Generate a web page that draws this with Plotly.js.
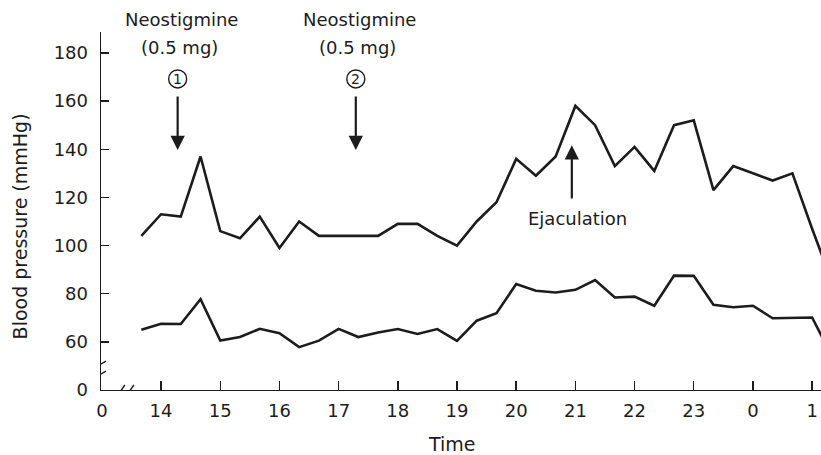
<!DOCTYPE html>
<html>
<head>
<meta charset="utf-8">
<script src="https://cdn.plot.ly/plotly-3.0.1.min.js"></script>
<style>
html,body{margin:0;padding:0;background:#fff;}
#chart{width:821px;height:455px;}
</style>
</head>
<body>
<div id="chart"></div>
<script>
// Time in hours (24 = midnight, 25 = 01:00), sampled every 20 minutes from 13:40
var times = [13.667,14.0,14.333,14.667,15.0,15.333,15.667,16.0,16.333,16.667,17.0,17.333,17.667,18.0,18.333,18.667,19.0,19.333,19.667,20.0,20.333,20.667,21.0,21.333,21.667,22.0,22.333,22.667,23.0,23.333,23.667,24.0,24.333,24.667,25.0,25.333];
// Systolic blood pressure (mmHg)
var systolic = [104,113,112,137,106,103,112,99,110,104,104,104,104,109,109,104,100,110,118,136,129,137,158,150,133,141,131,150,152,123,133,130,127,130,107,85];
// Diastolic blood pressure (mmHg)
var diastolic = [65,67.5,67.4,77.7,60.5,62,65.4,63.6,57.8,60.5,65.4,62,63.9,65.3,63.3,65.3,60.4,68.8,71.9,84,81.2,80.5,81.6,85.7,78.4,78.8,75,87.5,87.4,75.4,74.4,75,69.8,69.8,70.1,54];

var xTickVals = [13,14,15,16,17,18,19,20,21,22,23,24,25];
var xTickText = ['0','14','15','16','17','18','19','20','21','22','23','0','1'];
var yTickVals = [40,60,80,100,120,140,160,180];
var yTickText = ['0','60','80','100','120','140','160','180'];

var doseTimes = [14.28, 17.29];
var doseLabels = ['1','2'];
var ejacTime = 20.94;

var ink = '#1c1c1c';
var FONT = 'DejaVu Sans, sans-serif';

var traces = [
  {x: times, y: systolic, mode: 'lines', line: {color: ink, width: 2.6}, hoverinfo: 'skip'},
  {x: times, y: diastolic, mode: 'lines', line: {color: ink, width: 2.6}, hoverinfo: 'skip'}
];

var annotations = [];
var shapes = [];
doseTimes.forEach(function(t, i){
  annotations.push({x: t + 0.06, y: 1.036, xref:'x', yref:'paper', yanchor:'middle', xanchor:'center',
    text:'Neostigmine', showarrow:false, font:{family:FONT, size:18, color:ink}});
  annotations.push({x: t + 0.03, y: 182.4, xref:'x', yref:'y', yanchor:'middle', xanchor:'center',
    text:'(0.5 mg)', showarrow:false, font:{family:FONT, size:18, color:ink}});
  annotations.push({x: t, y: 169.2, xref:'x', yref:'y', yanchor:'middle', xanchor:'center',
    text: doseLabels[i], showarrow:false, font:{family:FONT, size:14, color:ink}});
  shapes.push({type:'circle', xref:'x', yref:'y', xsizemode:'pixel', ysizemode:'pixel',
    xanchor: t, yanchor: 169.2, x0:-9, x1:9, y0:-9, y1:9, line:{color:ink, width:1.4}});
  annotations.push({x: t, y: 139.7, ax: t, ay: 162.5, xref:'x', yref:'y', axref:'x', ayref:'y',
    text:'', showarrow:true, arrowhead:2, arrowsize:1.3, arrowwidth:2.2, arrowcolor:ink});
});
annotations.push({x: ejacTime, y: 141.7, ax: ejacTime, ay: 118.9, xref:'x', yref:'y', axref:'x', ayref:'y',
  text:'', showarrow:true, arrowhead:2, arrowsize:1.3, arrowwidth:2.2, arrowcolor:ink});
annotations.push({x: ejacTime + 0.09, y: 111.4, xref:'x', yref:'y', yanchor:'middle', xanchor:'center',
  text:'Ejaculation', showarrow:false, font:{family:FONT, size:18, color:ink}});
// axis titles
annotations.push({x: -0.112, y: 0.458, xref:'paper', yref:'paper', xanchor:'center', yanchor:'middle',
  text:'Blood pressure (mmHg)', textangle:-90, showarrow:false, font:{family:FONT, size:19, color:ink}});
annotations.push({x: 0.4875, y: -0.151, xref:'paper', yref:'paper', xanchor:'center', yanchor:'middle',
  text:'Time', showarrow:false, font:{family:FONT, size:19, color:ink}});

// y-axis break
shapes.push({type:'rect', xref:'x', yref:'y', xsizemode:'pixel', ysizemode:'pixel', xanchor:12.985, yanchor:48.7,
  x0:-4, x1:4, y0:-4, y1:4, fillcolor:'#fff', line:{width:0}});
shapes.push({type:'line', xref:'x', yref:'y', xsizemode:'pixel', ysizemode:'pixel', xanchor:12.985, yanchor:48.7,
  x0:-5, x1:5, y0:2, y1:8, line:{color:ink, width:1.4}});
shapes.push({type:'line', xref:'x', yref:'y', xsizemode:'pixel', ysizemode:'pixel', xanchor:12.985, yanchor:48.7,
  x0:-5, x1:5, y0:-8, y1:-2, line:{color:ink, width:1.4}});
// x-axis break
shapes.push({type:'rect', xref:'x', yref:'y', xsizemode:'pixel', ysizemode:'pixel', xanchor:13.405, yanchor:40,
  x0:-3, x1:3, y0:-3, y1:3, fillcolor:'#fff', line:{width:0}});
shapes.push({type:'line', xref:'x', yref:'y', xsizemode:'pixel', ysizemode:'pixel', xanchor:13.405, yanchor:40,
  x0:-8, x1:-1, y0:-5, y1:5, line:{color:ink, width:1.4}});
shapes.push({type:'line', xref:'x', yref:'y', xsizemode:'pixel', ysizemode:'pixel', xanchor:13.405, yanchor:40,
  x0:1, x1:8, y0:-5, y1:5, line:{color:ink, width:1.4}});

var layout = {
  width: 821, height: 455,
  margin: {l: 101, r: 0, t: 32, b: 65, pad: 0},
  paper_bgcolor: '#fff', plot_bgcolor: '#fff',
  showlegend: false,
  font: {family: FONT, size: 18, color: ink},
  xaxis: {
    range: [12.985, 25.15], showgrid: false, zeroline: false,
    showline: true, linecolor: ink, linewidth: 1.4,
    ticks: 'inside', ticklen: 9, tickwidth: 1.4, tickcolor: ink,
    tickmode: 'array', tickvals: xTickVals, ticktext: xTickText,
    tickfont: {family: FONT, size: 18, color: ink},
    ticklabelstandoff: 4
  },
  yaxis: {
    range: [40, 188.7], showgrid: false, zeroline: false,
    showline: true, linecolor: ink, linewidth: 1.4,
    ticks: 'inside', ticklen: 8, tickwidth: 1.4, tickcolor: ink,
    tickmode: 'array', tickvals: yTickVals, ticktext: yTickText,
    tickfont: {family: FONT, size: 18, color: ink},
    ticklabelstandoff: 8
  },
  annotations: annotations,
  shapes: shapes
};

Plotly.newPlot('chart', traces, layout, {displayModeBar: false, staticPlot: true});
</script>
</body>
</html>
